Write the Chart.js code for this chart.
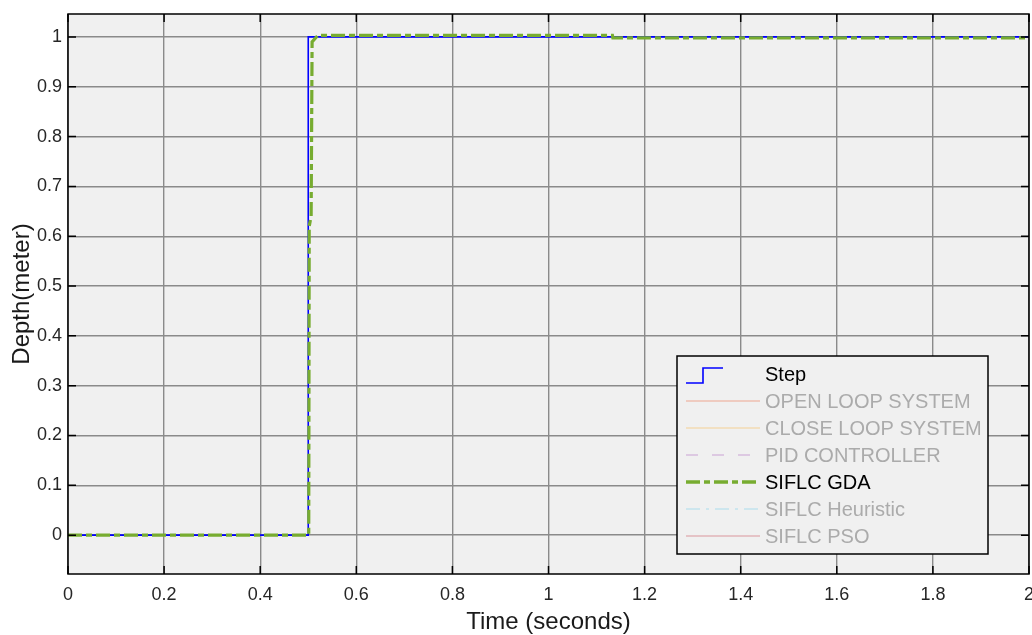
<!DOCTYPE html>
<html>
<head>
<meta charset="utf-8">
<script src="https://cdn.jsdelivr.net/npm/chart.js@4"></script>
<style>
  html, body { margin: 0; padding: 0; background: #fff; }
  canvas { display: block; }
</style>
</head>
<body>
<canvas id="depthChart" width="1032" height="635"></canvas>
<script>
/* time axis ticks and depth axis ticks */
const xTicks = [0, 0.2, 0.4, 0.6, 0.8, 1, 1.2, 1.4, 1.6, 1.8, 2];
const yTicks = [0, 0.1, 0.2, 0.3, 0.4, 0.5, 0.6, 0.7, 0.8, 0.9, 1];

/* step reference input */
const stepT = [0, 0.5, 0.5, 2];
const stepY = [0, 0, 1, 1];

/* SIFLC GDA response */
const gdaT = [0, 0.501, 0.502, 0.506, 0.508, 0.52, 1.133, 1.134, 2];
const gdaY = [0, 0, 0.62, 0.64, 0.99, 1.003, 1.003, 0.998, 0.998];

/* legend entries that are switched off in the plot */
const hiddenNames = ["OPEN LOOP SYSTEM", "CLOSE LOOP SYSTEM", "PID CONTROLLER", "SIFLC Heuristic", "SIFLC PSO"];

const toPoints = (t, y) => t.map((v, i) => ({ x: v, y: y[i] }));

const plotBg = '#f0f0f0';
const gridCol = '#8a8a8a';

/* legend drawn inside the axes, bottom right, MATLAB style */
const boxLegend = {
    id: 'boxLegend',
    afterDraw(chart) {
        const ctx = chart.ctx;
        const x0 = 677, y0 = 356, w = 311, h = 198;
        ctx.save();
        ctx.fillStyle = plotBg;
        ctx.fillRect(x0, y0, w, h);
        ctx.strokeStyle = '#000';
        ctx.lineWidth = 1.5;
        ctx.strokeRect(x0, y0, w, h);

        const entries = [0, 2, 3, 4, 1, 5, 6].map(i => chart.data.datasets[i]);
        ctx.font = '20px "Liberation Sans", Arial, sans-serif';
        ctx.textBaseline = 'middle';
        entries.forEach((ds, k) => {
            const yy = 374 + k * 27;
            ctx.strokeStyle = ds.borderColor;
            ctx.lineWidth = ds.legendWidth || ds.borderWidth;
            ctx.setLineDash(ds.borderDash || []);
            ctx.beginPath();
            if (ds.label === 'Step') {
                ctx.moveTo(686, yy + 9);
                ctx.lineTo(703, yy + 9);
                ctx.lineTo(703, yy - 6);
                ctx.lineTo(723, yy - 6);
            } else {
                ctx.moveTo(686, yy);
                ctx.lineTo(760, yy);
            }
            ctx.stroke();
            ctx.setLineDash([]);
            ctx.fillStyle = ds.hidden ? '#ababab' : '#000';
            ctx.fillText(ds.label, 765, yy + 1);
        });
        ctx.restore();
    }
};

/* grey plot background, black frame and inward tick marks */
const axesFrame = {
    id: 'axesFrame',
    beforeDraw(chart) {
        const a = chart.chartArea;
        chart.ctx.save();
        chart.ctx.fillStyle = plotBg;
        chart.ctx.fillRect(a.left, a.top, a.right - a.left, a.bottom - a.top);
        chart.ctx.restore();
    },
    afterDatasetsDraw(chart) {
        const a = chart.chartArea, ctx = chart.ctx;
        const xs = chart.scales.x, ys = chart.scales.y;
        ctx.save();
        ctx.strokeStyle = '#000';
        ctx.lineWidth = 1.5;
        ctx.strokeRect(a.left, a.top, a.right - a.left, a.bottom - a.top);
        ctx.beginPath();
        xTicks.forEach(v => {
            const px = xs.getPixelForValue(v);
            ctx.moveTo(px, a.bottom); ctx.lineTo(px, a.bottom - 8);
            ctx.moveTo(px, a.top); ctx.lineTo(px, a.top + 8);
        });
        yTicks.forEach(v => {
            const py = ys.getPixelForValue(v);
            ctx.moveTo(a.left, py); ctx.lineTo(a.left + 8, py);
            ctx.moveTo(a.right, py); ctx.lineTo(a.right - 8, py);
        });
        ctx.stroke();
        ctx.restore();
    }
};

const tickFont = { family: '"Liberation Sans", Arial, sans-serif', size: 18 };
const titleFont = { family: '"Liberation Sans", Arial, sans-serif', size: 24, lineHeight: 1 };

new Chart(document.getElementById('depthChart'), {
    type: 'line',
    data: {
        datasets: [
            {
                label: 'Step',
                data: toPoints(stepT, stepY),
                borderColor: '#0000ff',
                borderWidth: 1.6,
                order: 2
            },
            {
                label: 'SIFLC GDA',
                data: toPoints(gdaT, gdaY),
                borderColor: '#77ac30',
                borderWidth: 3.2,
                legendWidth: 3.5,
                borderDash: [14, 4, 6, 4],
                order: 1
            },
            { label: hiddenNames[0], data: [], hidden: true, borderColor: '#eda590', borderWidth: 1.2 },
            { label: hiddenNames[1], data: [], hidden: true, borderColor: '#f3cf94', borderWidth: 1.2 },
            { label: hiddenNames[2], data: [], hidden: true, borderColor: '#c9a2d3', borderWidth: 1.2, borderDash: [12, 14] },
            { label: hiddenNames[3], data: [], hidden: true, borderColor: '#a9dcec', borderWidth: 1.2, borderDash: [14, 6, 3, 6] },
            { label: hiddenNames[4], data: [], hidden: true, borderColor: '#d9959c', borderWidth: 1.2 }
        ]
    },
    options: {
        responsive: false,
        animation: false,
        devicePixelRatio: 1,
        layout: { padding: { top: 14, right: 3, left: 0, bottom: 0 } },
        elements: {
            point: { radius: 0 },
            line: { tension: 0, fill: false }
        },
        plugins: {
            legend: { display: false },
            tooltip: { enabled: false }
        },
        scales: {
            x: {
                type: 'linear',
                min: 0,
                max: 2,
                afterBuildTicks: s => { s.ticks = xTicks.map(v => ({ value: v })); },
                afterFit: s => { s.height = 61; s.paddingLeft = 0; s.paddingRight = 0; },
                grid: { color: gridCol, lineWidth: 1.4, drawTicks: false },
                border: { display: false },
                ticks: { font: tickFont, color: '#262626', padding: 10, maxRotation: 0, callback: v => String(v) },
                title: {
                    display: true,
                    text: 'Time (seconds)',
                    font: titleFont,
                    color: '#1a1a1a',
                    padding: { top: 0, bottom: 1 }
                }
            },
            y: {
                min: -0.078,
                max: 1.046,
                afterBuildTicks: s => { s.ticks = yTicks.map(v => ({ value: v })); },
                afterFit: s => { s.width = 68; s.paddingTop = 0; s.paddingBottom = 0; },
                grid: { color: gridCol, lineWidth: 1.4, drawTicks: false },
                border: { display: false },
                ticks: { font: tickFont, color: '#262626', padding: 6, callback: v => String(v) },
                title: {
                    display: true,
                    text: 'Depth(meter)',
                    font: titleFont,
                    color: '#1a1a1a',
                    padding: { top: 10, bottom: 0 }
                }
            }
        }
    },
    plugins: [axesFrame, boxLegend]
});
</script>
</body>
</html>
